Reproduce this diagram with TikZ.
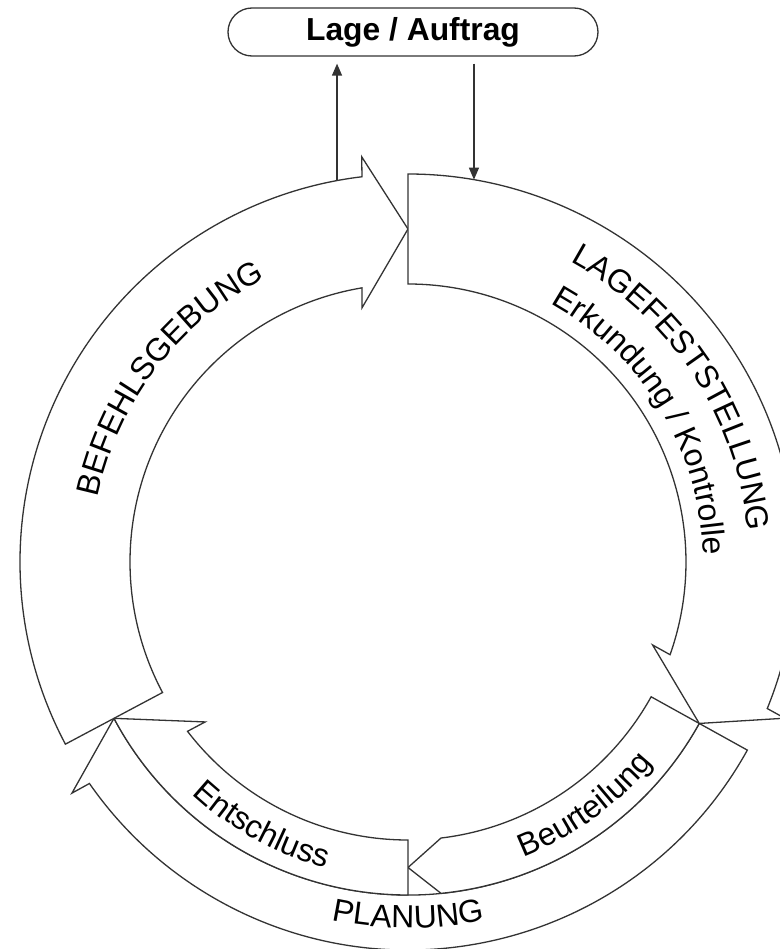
\documentclass[tikz,border=0pt]{standalone}
\usepackage{fontspec}
\setmainfont{Liberation Sans}
\usepackage{tikz}
\usetikzlibrary{arrows.meta}
\usetikzlibrary{decorations.text}

\newcommand{\ringfont}{\fontsize{16}{19}\selectfont}

\begin{document}
\begin{tikzpicture}[x=0.5pt,y=0.5pt,
        ring/.style={draw=black!80,fill=white,line width=0.65pt},
        conn/.style={draw=black!80,line width=0.65pt,-{Triangle[length=6pt,width=5pt]}},
        ringtext/.style={decorate,decoration={text along path,text align=center,text={|\ringfont|#1}}}]
            \useasboundingbox (-408,-387) rectangle (372,562);
            \clip (-408,-387) rectangle (372,562);

            \node [draw=black!80,line width=0.65pt,rounded corners=12pt,minimum width=185pt,minimum height=24pt,
                inner sep=0pt,font=\fontsize{15.9}{19}\selectfont\bfseries] (lage) at (5,530) {Lage / Auftrag};

            % lower band: PLANUNG outside, Beurteilung / Entschluss inside
            \draw [ring] (331:388) arc [start angle=331,end angle=214.81,radius=388]
                -- (214.52:407.9) -- (208:333) arc [start angle=208,end angle=331,radius=333] -- cycle;
            \draw [ring] (331:333) arc [start angle=331,end angle=275.69,radius=333]
                -- (270:305.5) -- (276.82:278) arc [start angle=276.82,end angle=331,radius=278] -- cycle;
            \draw [ring] (270:333) arc [start angle=270,end angle=208,radius=333]
                -- (218.26:258.3) -- (217.52:278) arc [start angle=217.52,end angle=270,radius=278] -- cycle;

            \draw [ring] (208:388) arc [start angle=208,end angle=96.81,radius=388]
                -- (96.52:407.9) -- (90:333) -- (100.26:258.3) -- (99.52:278)
                arc [start angle=99.52,end angle=208,radius=278] -- cycle;
            \draw [ring] (90:388) arc [start angle=90,end angle=-22.19,radius=388]
                -- (-22.52:407.9) -- (-29:333) -- (-18.74:258.3) -- (-19.48:278)
                arc [start angle=-19.48,end angle=90,radius=278] -- cycle;

            \path [ringtext=BEFEHLSGEBUNG] (182.5:317) arc [start angle=182.5,end angle=102.5,radius=317];
            \path [ringtext=LAGEFESTSTELLUNG] (73.4:341) arc [start angle=73.4,end angle=-6.6,radius=341];
            \path [ringtext=Erkundung / Kontrolle] (71.2:295) arc [start angle=71.2,end angle=-8.8,radius=295];
            \path [ringtext=Entschluss] (201:317) arc [start angle=201,end angle=281,radius=317];
            \path [ringtext=Beurteilung] (271:317) arc [start angle=271,end angle=341,radius=317];
            \path [ringtext=PLANUNG] (240:366) arc [start angle=240,end angle=300,radius=366];

            \coordinate (befehl) at (100.54:388);
            \coordinate (feststellung) at (80.21:388);
            \draw [conn,shorten >=3.5pt] (befehl) -- (befehl |- lage.south);
            \draw [conn,shorten <=3.5pt] (feststellung |- lage.south) -- (feststellung);
\end{tikzpicture}
\end{document}
